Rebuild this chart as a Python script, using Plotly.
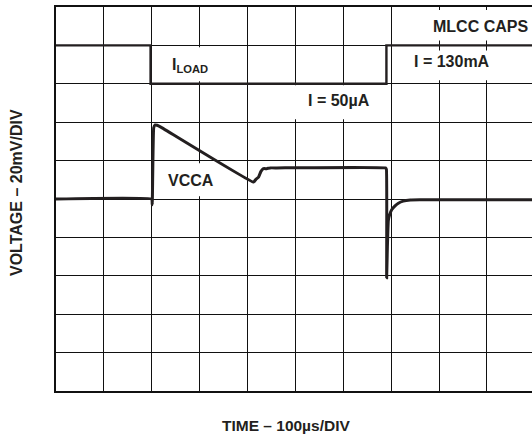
import plotly.graph_objects as go

# ---- data (time in µs, screen position in mV; 100 µs/div, 20 mV/div) ----
vcca_time_us = [0, 200, 201, 204, 207, 211, 218, 412.5, 418, 423, 428, 433, 440, 447, 461,
                688, 690, 690.5, 692, 694, 697, 701, 708, 715, 725, 740, 760, 994]
vcca_mv = [100, 100, 97, 137, 138.6, 138.4, 137.6, 108.8, 110.4, 111.4, 114.4, 115.8, 115.8, 116.2, 116.2,
           116.2, 115.4, 59, 75, 88.8, 92.0, 94.4, 96.4, 97.8, 98.9, 99.5, 99.6, 99.6]

iload_time_us = [0, 197.5, 197.5, 690, 690, 994]
iload_mv = [180, 180, 160, 160, 180, 180]

x_range = [0, 994]
y_range = [0, 200]

# label texts and positions
label_text = ["MLCC CAPS", "I = 130mA", "I = 50µA", "I<sub>LOAD</sub>", "VCCA"]
label_x = [886, 827, 591, 279, 282]
label_y = [189.6, 171.4, 151.4, 169.6, 109.4]
# white boxes behind labels: x0, x1, y0, y1
box_x0 = [769, 729, 489, 203, 218]
box_x1 = [994, 919, 669, 356, 368]
box_y0 = [182.6, 161.8, 141.6, 161.3, 101.4]
box_y1 = [198.4, 177.4, 159.2, 179.0, 118.6]

ink = "#231f20"
font_family = "Liberation Sans, Arial, sans-serif"

fig = go.Figure()
fig.add_trace(go.Scatter(x=iload_time_us, y=iload_mv, mode="lines",
                         line=dict(color=ink, width=2.4), hoverinfo="skip"))
fig.add_trace(go.Scatter(x=vcca_time_us, y=vcca_mv, mode="lines",
                         line=dict(color=ink, width=3, shape="spline", smoothing=0.3),
                         hoverinfo="skip"))

shapes = []
for x0, x1, y0, y1 in zip(box_x0, box_x1, box_y0, box_y1):
    shapes.append(dict(type="rect", xref="x", yref="y", x0=x0, x1=x1, y0=y0, y1=y1,
                       fillcolor="white", line=dict(width=0), layer="between"))

annotations = []
for t, x, y in zip(label_text, label_x, label_y):
    annotations.append(dict(text="<b>" + t + "</b>", x=x, y=y, xref="x", yref="y",
                            showarrow=False, xanchor="center", yanchor="middle",
                            font=dict(family=font_family, size=16, color=ink)))

annotations.append(dict(text="<b>TIME – 100µs/DIV</b>", x=286, y=425,
                        showarrow=False, font=dict(family=font_family, size=15.5, color=ink)))
annotations.append(dict(text="<b>VOLTAGE – 20mV/DIV</b>", x=16, y=193, textangle=-90,
                        showarrow=False, font=dict(family=font_family, size=16, color=ink)))

W, H = 532, 438
ml, mr, mt, mb = 56, 0, 7, 47
# convert pixel positions of the axis titles into paper coordinates
for a in annotations[-2:]:
    px, py = a["x"], a["y"]
    a["xref"] = "paper"
    a["yref"] = "paper"
    a["x"] = (px - ml) / (W - ml - mr)
    a["y"] = (H - mb - py) / (H - mt - mb)
    a["xanchor"] = "center"
    a["yanchor"] = "middle"

fig.update_layout(
    width=W, height=H,
    margin=dict(l=ml, r=mr, t=mt, b=mb),
    paper_bgcolor="white", plot_bgcolor="white",
    showlegend=False,
    shapes=shapes,
    annotations=annotations,
    xaxis=dict(range=x_range, tick0=0, dtick=100, showgrid=True, gridcolor="#111111", gridwidth=1.3,
               zeroline=False, showticklabels=False, ticks="", showline=True, linecolor="#111111",
               linewidth=2.4, mirror=True, fixedrange=True),
    yaxis=dict(range=y_range, tick0=0, dtick=20, showgrid=True, gridcolor="#111111", gridwidth=1.3,
               zeroline=False, showticklabels=False, ticks="", showline=True, linecolor="#111111",
               linewidth=2.4, mirror=False, fixedrange=True),
)

fig.write_html("out.html", config={"displayModeBar": False},
               post_script="document.body.style.margin='0';document.body.style.overflow='hidden';")
